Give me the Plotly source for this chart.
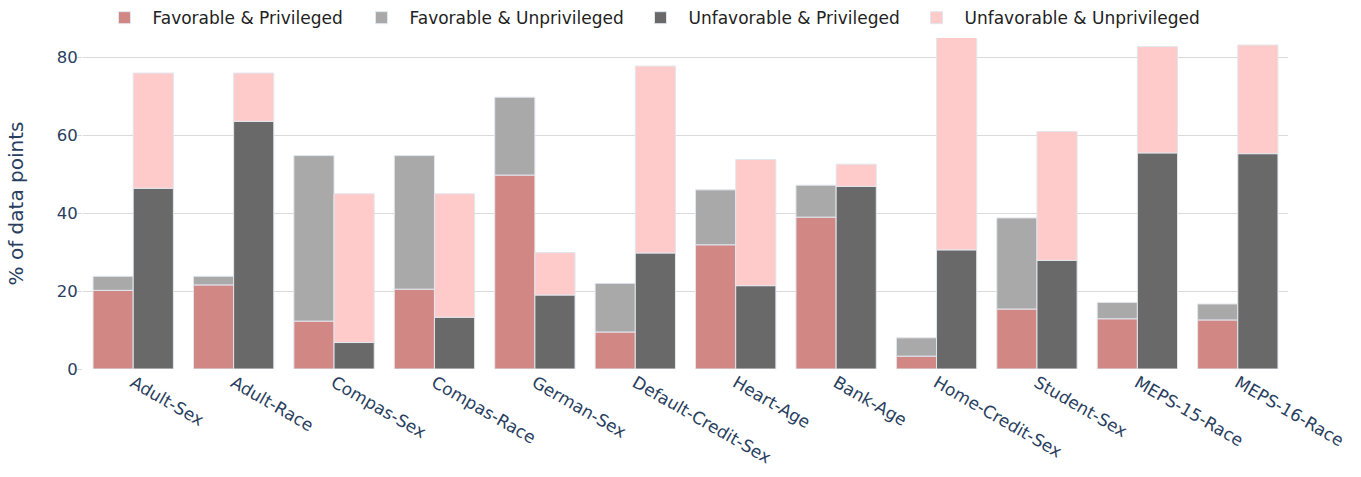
import plotly.graph_objects as go

datasets = ["Adult-Sex", "Adult-Race", "Compas-Sex", "Compas-Race", "German-Sex",
            "Default-Credit-Sex", "Heart-Age", "Bank-Age", "Home-Credit-Sex",
            "Student-Sex", "MEPS-15-Race", "MEPS-16-Race"]

fav_priv = [20.2, 21.6, 12.3, 20.5, 49.8, 9.5, 31.9, 39.0, 3.3, 15.4, 12.9, 12.6]
fav_unpriv = [3.6, 2.2, 42.5, 34.3, 20.0, 12.5, 14.1, 8.2, 4.7, 23.4, 4.2, 4.1]
unfav_priv = [46.4, 63.6, 6.8, 13.3, 19.0, 29.8, 21.4, 46.9, 30.6, 27.9, 55.5, 55.3]
unfav_unpriv = [29.6, 12.4, 38.2, 31.7, 10.9, 48.0, 32.4, 5.7, 61.4, 33.1, 27.3, 27.9]

names = ["Favorable & Privileged", "Favorable & Unprivileged",
         "Unfavorable & Privileged", "Unfavorable & Unprivileged"]
colors = ["#D18784", "#A9A9A9", "#696969", "#FFCBCA"]

line = dict(color="#E2E6EE", width=1)

fig = go.Figure()
fig.add_trace(go.Bar(x=datasets, y=fav_priv, name=names[0], offsetgroup="fav",
                     legendwidth=196,
                     marker=dict(color=colors[0], line=line)))
fig.add_trace(go.Bar(x=datasets, y=fav_unpriv, base=fav_priv, name=names[1], offsetgroup="fav",
                     legendwidth=218,
                     marker=dict(color=colors[1], line=line)))
fig.add_trace(go.Bar(x=datasets, y=unfav_priv, name=names[2], offsetgroup="unfav",
                     legendwidth=215,
                     marker=dict(color=colors[2], line=line)))
fig.add_trace(go.Bar(x=datasets, y=unfav_unpriv, base=unfav_priv, name=names[3], offsetgroup="unfav",
                     marker=dict(color=colors[3], line=line)))

fig.update_layout(
    width=1361, height=477,
    barmode="group", bargap=0.2, bargroupgap=0,
    plot_bgcolor="white", paper_bgcolor="white",
    font=dict(family="DejaVu Sans", size=16, color="#2a3f5f"),
    margin=dict(l=83, r=73, t=38, b=108, autoexpand=False),
    legend=dict(orientation="h", xref="container", yref="container",
                x=0.0709, xanchor="left", y=0.962, yanchor="middle",
                font=dict(size=17, color="#222222"), itemwidth=46, bgcolor="rgba(0,0,0,0)"),
    xaxis=dict(tickangle=30, showgrid=False, showline=False, ticks="",
               tickfont=dict(size=17, color="#2a3f5f")),
    yaxis=dict(range=[0, 85], tickvals=[0, 20, 40, 60, 80], showgrid=True,
               gridcolor="#DADADA", gridwidth=1.4, zeroline=False, ticks="outside",
               ticklen=5, tickcolor="#DADADA", ticklabelstandoff=-4,
               tickfont=dict(size=16.5, color="#2a3f5f"),
               title=dict(text="% of data points", standoff=27,
                          font=dict(size=20, color="#2a3f5f"))),
)

fig.write_html("out.html", config={"displayModeBar": False},
               post_script="document.body.style.margin='0';")
